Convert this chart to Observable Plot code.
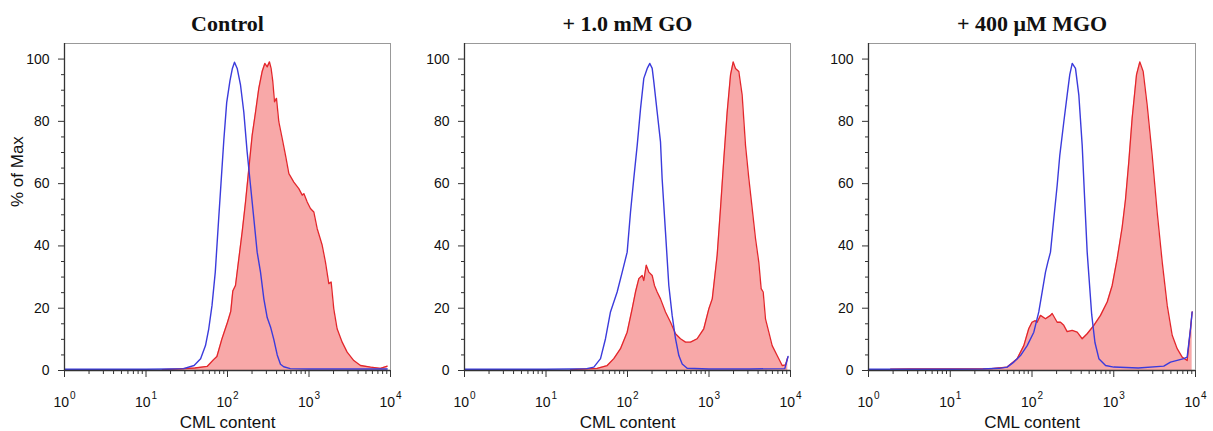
<!DOCTYPE html>
<html><head><meta charset="utf-8">
<script src="https://cdn.jsdelivr.net/npm/d3@7"></script>
<script src="https://cdn.jsdelivr.net/npm/@observablehq/plot@0.6"></script>
<style>
body{margin:0;background:#fff;}
#wrap{position:relative;width:1213px;height:431px;overflow:hidden;background:#fff;}
#wrap svg{position:absolute;top:0;}
</style></head><body><div id="wrap"></div>
<script>
// ---- texts & ticks ----
const titles = ["Control", "+ 1.0 mM GO", "+ 400 \u03bcM MGO"];
const xLabel = "CML content";
const yLabel = "% of Max";
const decades = [1, 10, 100, 1000, 10000];
const decadeExp = ["0", "1", "2", "3", "4"];
const yTicks = [0, 20, 40, 60, 80, 100];
const yMinor = [5, 10, 15, 25, 30, 35, 45, 50, 55, 65, 70, 75, 85, 90, 95];
const xMinor = decades.slice(0, 4).flatMap(d => [2,3,4,5,6,7,8,9].map(k => k * d));

// ---- data: log10(CML content) positions and % of Max ----
// Control
const ctrlBlueLog = [0,0.5,1.0,1.3,1.46,1.59,1.67,1.73,1.77,1.81,1.85,1.89,1.92,1.955,1.99,2.03,2.06,2.086,2.119,2.16,2.2,2.241,2.282,2.323,2.364,2.405,2.446,2.487,2.528,2.568,2.61,2.65,2.69,2.77,3.0,3.5,3.96];
const ctrlBlueVal = [0.4,0.4,0.4,0.5,0.6,1.6,3.8,8,13.4,20.9,31.6,48,60,74,86,93,97,99,97,91.6,83,70.2,59.5,48.8,38,31.6,23,17,14,10,5,2,1.2,0.6,0.5,0.5,0.5];
const ctrlRedLog = [1.2,1.4,1.6,1.75,1.83,1.87,1.93,2.0,2.04,2.065,2.098,2.139,2.18,2.221,2.262,2.303,2.344,2.384,2.425,2.458,2.487,2.515,2.535,2.555,2.577,2.601,2.63,2.671,2.712,2.753,2.814,2.875,2.917,2.937,2.978,3.018,3.059,3.1,3.162,3.202,3.243,3.272,3.304,3.345,3.407,3.468,3.55,3.632,3.755,3.877,3.96];
const ctrlRedVal = [0.3,0.5,0.8,1.3,3.5,4.5,10,15.5,19,25.5,27.3,35.9,44.5,54.1,64.9,75.6,83,90.6,96,98.6,97.5,99.1,97,93,86.3,87.4,79.8,74.5,69.1,63.2,60.5,58.4,56.3,56.8,54.1,52,50.9,45.6,40.2,34.8,27.9,28.4,19.8,13.4,9.1,5.9,3.2,1.6,1.1,0.7,1.4];
// + 1.0 mM GO
const goBlueLog = [0,0.5,1.0,1.3,1.5,1.587,1.669,1.73,1.791,1.832,1.873,1.935,1.996,2.037,2.077,2.119,2.16,2.2,2.242,2.274,2.303,2.323,2.364,2.405,2.425,2.466,2.507,2.548,2.589,2.63,2.671,2.732,3.0,3.5,3.93,3.97];
const goBlueVal = [0.4,0.4,0.4,0.5,0.6,1.1,3.8,10.2,18.8,22,25.2,31.6,38,50.9,61.6,72.3,84.1,93.8,97,98.6,97,92.7,83,73.4,61.6,44.5,27.3,17.7,10.2,4.8,2.1,0.7,0.5,0.5,0.6,4.5];
const goRedLog = [1.3,1.628,1.751,1.832,1.914,1.996,2.057,2.098,2.139,2.18,2.2,2.23,2.262,2.303,2.331,2.364,2.405,2.466,2.528,2.589,2.65,2.712,2.773,2.855,2.936,2.998,3.04,3.1,3.141,3.182,3.223,3.264,3.297,3.325,3.366,3.407,3.448,3.489,3.53,3.571,3.611,3.64,3.665,3.693,3.734,3.775,3.836,3.898,3.939,3.967];
const goRedVal = [0.3,0.7,1.6,3.8,7,12.3,19.8,25.2,29.5,30.5,28.9,33.8,31.6,30.5,27.3,25.2,23,18.8,15.5,11.8,10.2,9.1,9.1,10.2,13.4,19.8,23,37,52,68,83,94.9,99.1,97,96,88.4,72.3,61.6,52,42.3,34.8,26.3,25.2,16.6,12.3,8,4.8,1.6,1.8,4.3];
// + 400 uM MGO
const mgoBlueLog = [0,0.5,1.0,1.4,1.6,1.696,1.778,1.859,1.941,2.022,2.083,2.124,2.165,2.194,2.226,2.267,2.308,2.34,2.389,2.43,2.462,2.492,2.532,2.573,2.614,2.642,2.675,2.73,2.77,2.818,2.9,3.0,3.3,3.612,3.694,3.857,3.898,3.939,3.959];
const mgoBlueVal = [0.4,0.4,0.4,0.5,0.7,1.1,2.7,4.8,8,12.3,18.8,25.2,31.6,34.8,38,48.8,59.5,69.1,79.8,88.4,95,98.6,97,88.4,72.3,56.3,38,18,9,3.8,1.6,1.1,0.8,1.4,2.7,3.8,4.3,13.4,18.8];
const mgoRedLog = [0.27,0.5,1.0,1.5,1.696,1.819,1.9,1.96,2.0,2.04,2.063,2.104,2.165,2.226,2.247,2.308,2.349,2.389,2.43,2.492,2.553,2.614,2.675,2.757,2.838,2.92,2.981,3.042,3.103,3.144,3.184,3.225,3.278,3.319,3.36,3.409,3.47,3.531,3.593,3.654,3.715,3.776,3.837,3.898,3.939,3.959];
const mgoRedVal = [0.4,0.5,0.5,0.6,1.1,3.8,8,13.4,15.5,16,15.5,17.7,16.6,17.7,18.3,15.5,15.5,14.5,12.5,12.9,12.3,10.2,11.8,14.5,17.7,22,27.3,35.9,46,55,67,81,94.9,99.1,96,85.2,69.1,50.9,34.8,20.9,11.3,7,4.3,3.2,13.4,18.8];

const panels = [
  {left: 0,   width: 400, ml: 64, mr: 10, bl: ctrlBlueLog, bv: ctrlBlueVal, rl: ctrlRedLog, rv: ctrlRedVal, showY: true},
  {left: 400, width: 400, ml: 64, mr: 10, bl: goBlueLog,   bv: goBlueVal,   rl: goRedLog,   rv: goRedVal,   showY: false},
  {left: 800, width: 413, ml: 68, mr: 18, bl: mgoBlueLog,  bv: mgoBlueVal,  rl: mgoRedLog,  rv: mgoRedVal,  showY: false}
];

const SANS = "'Liberation Sans', Arial, sans-serif";
const SERIF = "'Liberation Serif', 'Times New Roman', serif";
const wrap = document.getElementById("wrap");

panels.forEach((p, i) => {
  const blue = p.bl.map((l, j) => ({x: 10 ** l, y: p.bv[j]}));
  const red = p.rl.map((l, j) => ({x: 10 ** l, y: p.rv[j]}));
  const marks = [
    Plot.areaY(red, {x: "x", y: "y", fill: "#f8a8a8", curve: "linear"}),
    Plot.lineY(red, {x: "x", y: "y", stroke: "#e3262b", strokeWidth: 1.3, curve: "linear"}),
    Plot.lineY(blue, {x: "x", y: "y", stroke: "#3b3bdc", strokeWidth: 1.4, curve: "linear"}),
    Plot.frame({stroke: "#999", strokeWidth: 1}),
    Plot.ruleX([1], {stroke: "#333", strokeWidth: 1.3}),
    Plot.ruleY([0], {stroke: "#333", strokeWidth: 1.3}),
    Plot.axisY(yTicks, {tickSize: 6, tickPadding: 9, stroke: "#333", fill: "#111", fontSize: 14, fontFamily: SANS, label: null}),
    Plot.axisY(yMinor, {tickSize: 3, stroke: "#333", tickFormat: () => "", label: null}),
    Plot.axisX(decades, {tickSize: 7, stroke: "#333", tickFormat: () => "", label: null}),
    Plot.axisX(xMinor, {tickSize: 4, stroke: "#333", tickFormat: () => "", label: null}),
    Plot.text(decades, {x: d => d, frameAnchor: "bottom", lineAnchor: "bottom", dy: 36, dx: 4.5, textAnchor: "end", text: () => "10", fontSize: 14, fontFamily: SANS, fill: "#111"}),
    Plot.text(decades, {x: d => d, frameAnchor: "bottom", lineAnchor: "bottom", dy: 28, dx: 5.5, textAnchor: "start", text: (d, k) => decadeExp[k], fontSize: 10, fontFamily: SANS, fill: "#111"}),
    Plot.text([xLabel], {frameAnchor: "bottom", lineAnchor: "bottom", dy: 57, text: d => d, fontSize: 17, fontFamily: SANS, fill: "#111"}),
    Plot.text([titles[i]], {frameAnchor: "top", lineAnchor: "bottom", dy: -13, text: d => d, fontSize: 22, fontWeight: "bold", fontFamily: SERIF, fill: "#111"})
  ];
  if (p.showY) {
    marks.push(Plot.text([yLabel], {frameAnchor: "left", rotate: -90, dx: -47, text: d => d, fontSize: 17, fontFamily: SANS, fill: "#111"}));
  }
  const svg = Plot.plot({
    width: p.width, height: 431,
    marginLeft: p.ml, marginRight: p.mr, marginTop: 43, marginBottom: 61,
    style: {fontFamily: SANS, background: "transparent", overflow: "visible"},
    x: {type: "log", domain: [1, 1e4], axis: null},
    y: {domain: [0, 105], axis: null},
    marks
  });
  svg.style.left = p.left + "px";
  wrap.appendChild(svg);
});
</script></body></html>
